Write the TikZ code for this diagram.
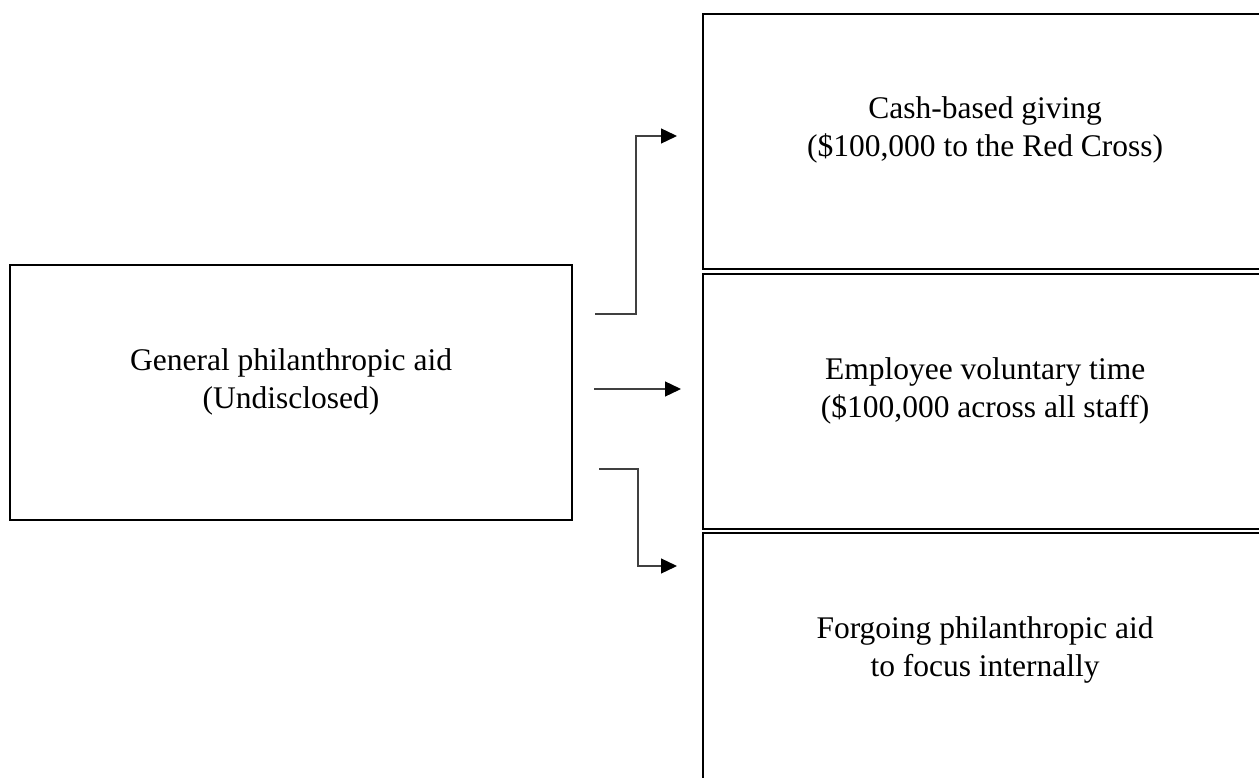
\documentclass[tikz,border=0pt]{standalone}
\usepackage{fontspec}
\setmainfont{Liberation Serif}
\usetikzlibrary{arrows.meta}
\begin{document}
\begin{tikzpicture}[x=1pt,y=-1pt,
  box/.style={draw=black,line width=2.2pt,minimum width=564pt,minimum height=255pt,inner sep=0pt,anchor=north west},
  boxtext/.style={align=center,anchor=base,inner sep=0pt,font=\fontsize{31.5}{38}\selectfont},
  conn/.style={draw=black!75,line width=1.3pt},
  arr/.style={conn,-{Triangle[length=16pt,width=15pt,color=black]}}]
\useasboundingbox (0,0) rectangle (1259,778);
\node[box,minimum width=562pt] (L) at (9,264) {};
\node[box] (A) at (702,13) {};
\node[box] (B) at (702,273) {};
\node[box] (C) at (702,532) {};
\node[boxtext] (Lt) at ([yshift=-144pt]L.north) {General philanthropic aid\\(Undisclosed)};
\node[boxtext] (At) at ([yshift=-144pt]A.north) {Cash-based giving\\ (\$100,000 to the Red Cross)};
\node[boxtext] (Bt) at ([yshift=-144pt]B.north) {Employee voluntary time\\(\$100,000 across all staff)};
\node[boxtext] (Ct) at ([yshift=-144pt]C.north) {Forgoing philanthropic aid\\to focus internally};
\coordinate (s1) at (595,314);
\coordinate (e1) at (677,136);
\coordinate (s2) at (594,389);
\coordinate (e2) at (681,389);
\coordinate (s3) at (599,469);
\coordinate (e3) at (677,566);
\draw[arr] (s1) -- (636,314) -- (636,136) -- (e1);
\draw[arr] (s2) -- (e2);
\draw[arr] (s3) -- (638,469) -- (638,566) -- (e3);
\end{tikzpicture}
\end{document}
